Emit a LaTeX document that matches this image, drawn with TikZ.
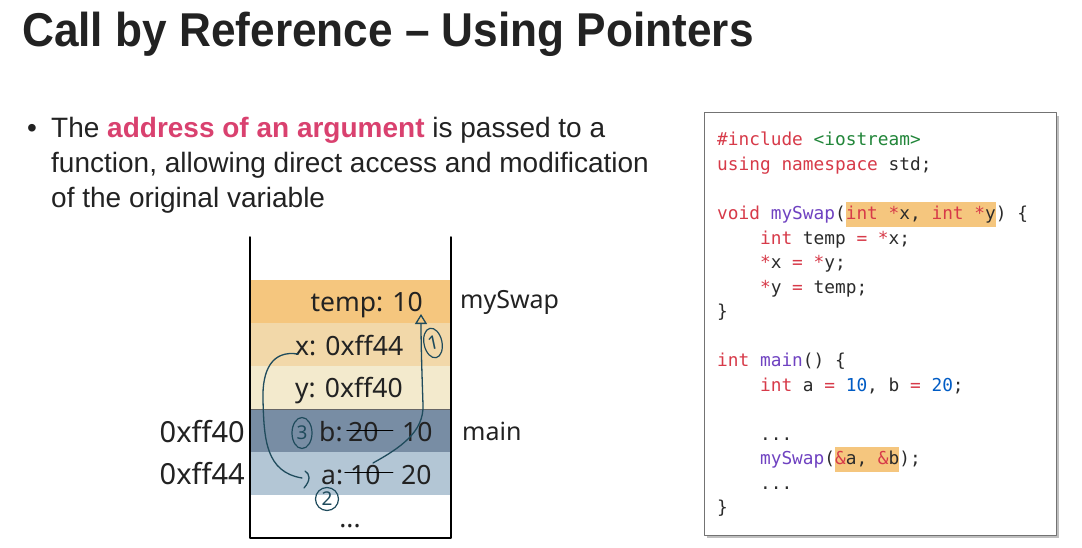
\documentclass[tikz,border=0pt]{standalone}
\usepackage{fontspec}
\setmainfont{Liberation Sans}
\newfontfamily\titlefont[FakeStretch=0.93]{Liberation Sans}
\newfontfamily\stackfont{Noto Sans}
\setmonofont{DejaVu Sans Mono}
\usetikzlibrary{arrows.meta,shapes.geometric,positioning}

\definecolor{ink}{HTML}{222222}
\definecolor{accent}{HTML}{D9416F}
\definecolor{tempfill}{HTML}{F5C67E}
\definecolor{xfill}{HTML}{F2D8A9}
\definecolor{yfill}{HTML}{F3EACD}
\definecolor{bfill}{HTML}{788DA4}
\definecolor{afill}{HTML}{B3C6D5}
\definecolor{pen}{HTML}{1F4B5C}
\definecolor{ckwc}{HTML}{D73A49}
\definecolor{cstrc}{HTML}{22863A}
\definecolor{cfnc}{HTML}{6F42C1}
\definecolor{cnumc}{HTML}{005CC5}
\definecolor{codeink}{HTML}{2B2B2B}
\definecolor{hlfill}{HTML}{F5C67E}

\newcommand{\ckw}[1]{\textcolor{ckwc}{#1}}
\newcommand{\cstr}[1]{\textcolor{cstrc}{#1}}
\newcommand{\cfn}[1]{\textcolor{cfnc}{#1}}
\newcommand{\cnum}[1]{\textcolor{cnumc}{#1}}
\newcommand{\chl}[1]{{\setlength{\fboxsep}{0pt}\colorbox{hlfill}{\rule[-7.5pt]{0pt}{25pt}#1}}}
\newcommand{\ind}{\hphantom{xxxx}}

\tikzset{
  row/.style={minimum width=201pt,minimum height=43pt,inner sep=0pt,outer sep=0pt},
  stk/.style={inner sep=0pt,font=\stackfont\fontsize{26.5}{30}\selectfont,text=ink},
  body/.style={anchor=base west,inner sep=0pt,font=\fontsize{28}{34}\selectfont,text=ink},
  codeline/.style={anchor=base west,inner sep=0pt,font=\ttfamily\fontsize{17.8}{20}\selectfont,text=codeink},
  penline/.style={draw=pen,line width=1.3pt,line cap=round,line join=round},
  ring/.style={ellipse,draw=pen,line width=1.2pt,inner sep=0pt,text=pen,
    font=\stackfont\fontsize{19}{22}\selectfont},
}

\begin{document}
\begin{tikzpicture}[x=1pt,y=-1pt,line cap=round,line join=round]
  \useasboundingbox (0,0) rectangle (1082,548);

  % Title and bullet
  \node[anchor=base west,inner sep=0pt,text=ink,font=\titlefont\bfseries\fontsize{47.5}{56}\selectfont]
    (title) at (22,47) {Call by Reference – Using Pointers};
  \node[body] (dot) at (27,138) {\textbullet};
  \node[body] (line1) at (51,138) {The \textcolor{accent}{\bfseries address of an argument} is passed to a};
  \node[body] (line2) at (51,173) {function, allowing direct access and modification};
  \node[body] (line3) at (51,208) {of the original variable};

  % Stack frames
  \node[row,fill=tempfill] (rtemp) at (350.5,301.5) {};
  \node[row,fill=xfill,below=0pt of rtemp] (rx) {};
  \node[row,fill=yfill,below=0pt of rx] (ry) {};
  \node[row,fill=bfill,below=0pt of ry] (rb) {};
  \node[row,fill=afill,below=0pt of rb] (ra) {};
  \draw[line width=0.7pt,black!60] (rb.north west) -- (rb.north east);
  \draw[line width=1.5pt] (250,237) -- (250,538) -- (451,538) -- (451,237);

  \node[stk,anchor=base east] (temp) at (423,312) {temp: 10};
  \node[stk,anchor=base west] (xval) at (295,355) {x: 0xff44};
  \node[stk,anchor=base west] (yval) at (295,397) {y: 0xff40};
  \node[stk,anchor=base west] (bname) at (319,441) {b:};
  \node[stk,anchor=base west] (bold) at (348,441) {20};
  \node[stk,anchor=base west] (bnew) at (402,441) {10};
  \node[stk,anchor=base west] (aname) at (321,484) {a:};
  \node[stk,anchor=base west] (aold) at (350,484) {10};
  \node[stk,anchor=base west] (anew) at (401,484) {20};
  \node[stk,anchor=base] (more) at (350,527) {...};

  \draw[line width=1.2pt] ([xshift=-1pt,yshift=1pt]bold.west) -- ([xshift=14pt,yshift=1pt]bold.east);
  \draw[line width=1.2pt] ([xshift=-5pt,yshift=2pt]aold.west) -- ([xshift=12pt,yshift=2pt]aold.east);

  \node[stk,anchor=base east,font=\stackfont\fontsize{29}{32}\selectfont] (addrb) at (245,442) {0xff40};
  \node[stk,anchor=base east,font=\stackfont\fontsize{29}{32}\selectfont] (addra) at (245,484) {0xff44};
  \node[stk,anchor=base west,font=\stackfont\fontsize{25}{30}\selectfont] (fswap) at (460,308) {mySwap};
  \node[stk,anchor=base west,font=\stackfont\fontsize{25}{30}\selectfont] (fmain) at (462,440) {main};

  % Handwritten steps
  \coordinate (s1) at (373,463);
  \coordinate (e1) at (421,314);
  \draw[penline,-{Triangle[open,length=10pt,width=12pt]}] (s1)
    .. controls (400,448) and (424,432) .. (423,405)
    .. controls (422,375) and (421,345) .. (e1);
  \node[ring,minimum width=18pt,minimum height=30pt,rotate=12] (n1) at (433,343) {1};

  \coordinate (s3) at (298,354);
  \coordinate (e3) at (302,478);
  \draw[penline] (s3) .. controls (272,350) and (262,370) .. (263,400)
    .. controls (264,440) and (266,472) .. (e3);
  \draw[penline] (305,471) .. controls (310,474) and (311,480) .. (304,488);
  \node[ring,minimum width=20pt,minimum height=31pt] (n3) at (302,433) {3};
  \node[ring,minimum width=23pt,minimum height=23pt] (n2) at (327,499) {2};

  % Code listing
  \fill[black!25] (707,116) rectangle (1059,538);
  \draw[line width=1pt,black!55,fill=white] (704,113) rectangle (1056,535);
  \node[codeline] (c1) at (717,146) {\ckw{\#include} \cstr{<iostream>}};
  \node[codeline] (c2) at (717,170.5) {\ckw{using} \ckw{namespace} std;};
  \node[codeline] (c4) at (717,219.5) {\ckw{void} \cfn{mySwap}(\chl{\ckw{int} \ckw{*}x, \ckw{int} \ckw{*}y}) \{};
  \node[codeline] (c5) at (717,244) {\ind\ckw{int} temp \ckw{=} \ckw{*}x;};
  \node[codeline] (c6) at (717,268.5) {\ind\ckw{*}x \ckw{=} \ckw{*}y;};
  \node[codeline] (c7) at (717,293) {\ind\ckw{*}y \ckw{=} temp;};
  \node[codeline] (c8) at (717,317.5) {\}};
  \node[codeline] (c10) at (717,366.5) {\ckw{int} \cfn{main}() \{};
  \node[codeline] (c11) at (717,391) {\ind\ckw{int} a \ckw{=} \cnum{10}, b \ckw{=} \cnum{20};};
  \node[codeline] (c13) at (717,440) {\ind...};
  \node[codeline] (c14) at (717,464.5) {\ind\cfn{mySwap}(\chl{\ckw{\&}a, \ckw{\&}b});};
  \node[codeline] (c15) at (717,489) {\ind...};
  \node[codeline] (c16) at (717,513.5) {\}};
\end{tikzpicture}
\end{document}
